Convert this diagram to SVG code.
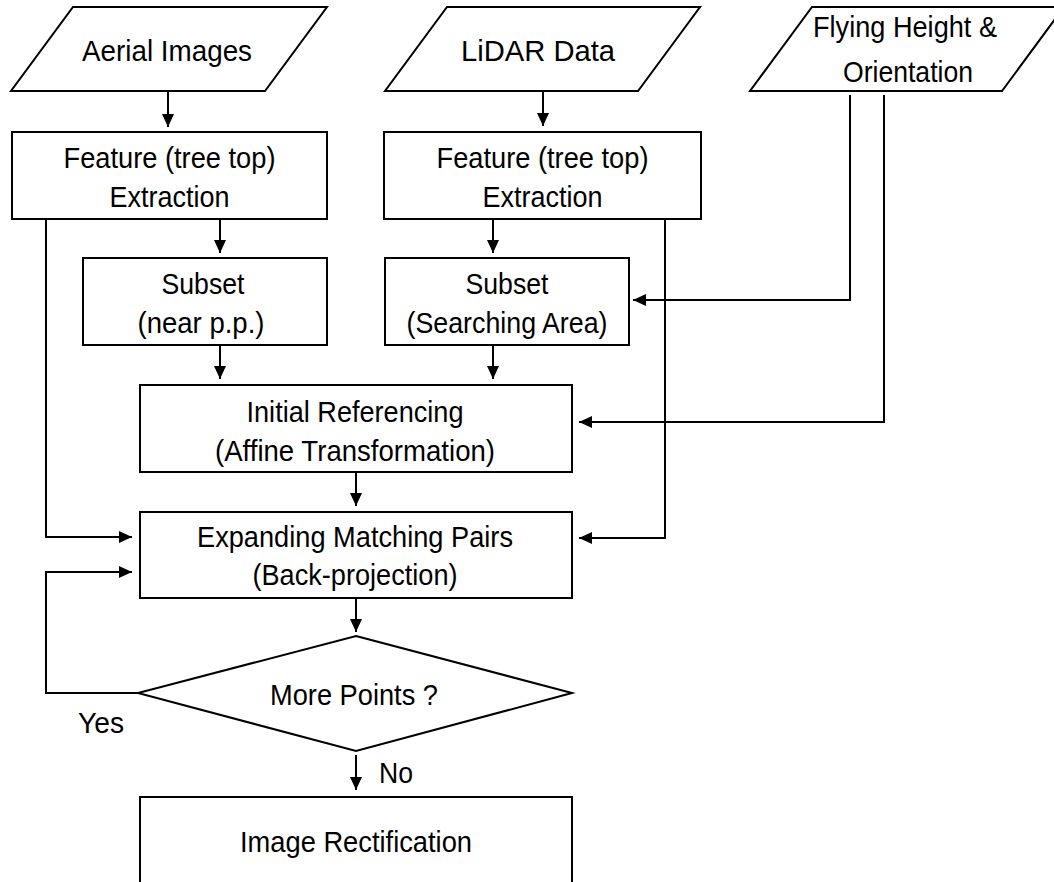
<svg xmlns="http://www.w3.org/2000/svg" width="1054" height="882" viewBox="0 0 1054 882">
<style>
.s{fill:#fff;stroke:#000;stroke-width:2}
.t{font-family:"Liberation Sans",Arial,sans-serif;font-size:30px;fill:#000;text-anchor:middle}
.c{fill:none;stroke:#000;stroke-width:2}
</style>
<defs>
<marker id="ah" markerUnits="userSpaceOnUse" markerWidth="14" markerHeight="12" refX="13" refY="6" orient="auto">
<path d="M0,0 L13,6 L0,12 z" fill="#000"/>
</marker>
</defs>
<rect width="1054" height="882" fill="#fff"/>
<g id="aerial">
<polygon class="s" points="73,7 327,7 265,91 11,91"/>
<text class="t" x="167" y="61" textLength="170" lengthAdjust="spacingAndGlyphs">Aerial Images</text>
</g>
<g id="lidar">
<polygon class="s" points="447,7 700,7 638,91 385,91"/>
<text class="t" x="538" y="61" textLength="154" lengthAdjust="spacingAndGlyphs">LiDAR Data</text>
</g>
<g id="flying">
<polygon class="s" points="812,7 1064,7 1002,91 750,91"/>
<text class="t" x="905" y="37" textLength="184" lengthAdjust="spacingAndGlyphs">Flying Height &amp;</text>
<text class="t" x="908" y="82" textLength="130" lengthAdjust="spacingAndGlyphs">Orientation</text>
</g>
<g id="feat-a">
<rect class="s" x="12" y="132" width="315" height="87"/>
<text class="t" x="169.5" y="168" textLength="212" lengthAdjust="spacingAndGlyphs">Feature (tree top)</text>
<text class="t" x="169.5" y="207" textLength="120" lengthAdjust="spacingAndGlyphs">Extraction</text>
</g>
<g id="feat-l">
<rect class="s" x="384" y="132" width="317" height="87"/>
<text class="t" x="542.5" y="168" textLength="212" lengthAdjust="spacingAndGlyphs">Feature (tree top)</text>
<text class="t" x="542.5" y="207" textLength="120" lengthAdjust="spacingAndGlyphs">Extraction</text>
</g>
<g id="subset-a">
<rect class="s" x="83" y="258" width="244" height="87"/>
<text class="t" x="203" y="294" textLength="83" lengthAdjust="spacingAndGlyphs">Subset</text>
<text class="t" x="201" y="333" textLength="127" lengthAdjust="spacingAndGlyphs">(near p.p.)</text>
</g>
<g id="subset-l">
<rect class="s" x="385" y="258" width="244" height="87"/>
<text class="t" x="507" y="294" textLength="83" lengthAdjust="spacingAndGlyphs">Subset</text>
<text class="t" x="507" y="333" textLength="201" lengthAdjust="spacingAndGlyphs">(Searching Area)</text>
</g>
<g id="initial">
<rect class="s" x="140" y="385" width="432" height="87"/>
<text class="t" x="355" y="422" textLength="217" lengthAdjust="spacingAndGlyphs">Initial Referencing</text>
<text class="t" x="355" y="461" textLength="280" lengthAdjust="spacingAndGlyphs">(Affine Transformation)</text>
</g>
<g id="expanding">
<rect class="s" x="140" y="512" width="432" height="86"/>
<text class="t" x="355" y="547" textLength="316" lengthAdjust="spacingAndGlyphs">Expanding Matching Pairs</text>
<text class="t" x="355" y="585" textLength="205" lengthAdjust="spacingAndGlyphs">(Back-projection)</text>
</g>
<g id="decision">
<polygon class="s" points="356,636 572,693 356,751 138,693"/>
<text class="t" x="354" y="705" textLength="168" lengthAdjust="spacingAndGlyphs">More Points ?</text>
</g>
<g id="rectification">
<rect class="s" x="140" y="797" width="432" height="100"/>
<text class="t" x="356" y="852" textLength="232" lengthAdjust="spacingAndGlyphs">Image Rectification</text>
</g>
<g id="connectors">
<line class="c" x1="168" y1="91" x2="168" y2="127" marker-end="url(#ah)"/>
<line class="c" x1="543" y1="91" x2="543" y2="126" marker-end="url(#ah)"/>
<line class="c" x1="220" y1="219" x2="220" y2="253" marker-end="url(#ah)"/>
<line class="c" x1="493" y1="219" x2="493" y2="253" marker-end="url(#ah)"/>
<line class="c" x1="220" y1="345" x2="220" y2="379" marker-end="url(#ah)"/>
<line class="c" x1="493" y1="345" x2="493" y2="379" marker-end="url(#ah)"/>
<line class="c" x1="356" y1="472" x2="356" y2="506" marker-end="url(#ah)"/>
<line class="c" x1="356" y1="598" x2="356" y2="632" marker-end="url(#ah)"/>
<line class="c" x1="356" y1="755" x2="356" y2="790" marker-end="url(#ah)"/>
<polyline class="c" points="46,219 46,537 132,537" marker-end="url(#ah)"/>
<polyline class="c" points="138,693 46,693 46,572 132,572" marker-end="url(#ah)"/>
<polyline class="c" points="665,219 665,538 579,538" marker-end="url(#ah)"/>
<polyline class="c" points="850,95 850,300 633,300" marker-end="url(#ah)"/>
<polyline class="c" points="884,95 884,422 579,422" marker-end="url(#ah)"/>
</g>
<g id="labels">
<text class="t" x="101" y="733" textLength="46" lengthAdjust="spacingAndGlyphs">Yes</text>
<text class="t" x="396" y="783" textLength="34" lengthAdjust="spacingAndGlyphs">No</text>
</g>
</svg>
